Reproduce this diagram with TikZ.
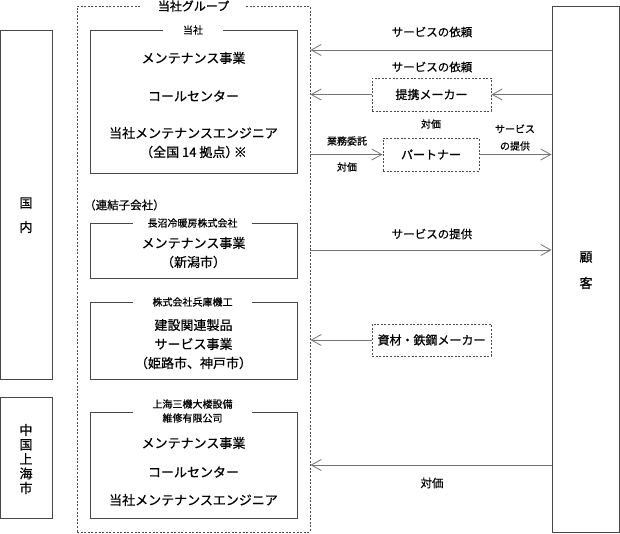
\documentclass[tikz,border=0pt]{standalone}
\usepackage{fontspec}
\setmainfont{Noto Sans CJK JP}[FakeBold=0.6]
\usetikzlibrary{arrows.meta}
\begin{document}
\begin{tikzpicture}[x=1pt,y=-1pt,
  solidbox/.style={draw=black!72, line width=0.9pt, inner sep=0pt},
  dashbox/.style={draw=black!70, line width=0.9pt, dash pattern=on 2pt off 1.6pt, inner sep=0pt},
  grouptitle/.style={fill=white, font=\fontsize{12}{14}\selectfont, inner sep=0pt, minimum width=103pt, minimum height=12pt},
  boxtitle/.style={fill=white, font=\fontsize{10}{14}\selectfont, inner sep=0pt, minimum width=119pt, minimum height=10pt, align=center},
  body/.style={font=\fontsize{13}{15}\selectfont, inner sep=0pt},
  lbl/.style={font=\fontsize{11.5}{13}\selectfont, inner sep=0pt},
  smlbl/.style={font=\fontsize{10}{17}\selectfont, inner sep=0pt, align=center},
  conn/.style={draw=black!55, line width=1pt, -{Straight Barb[length=10pt,width=11pt,line width=0.8pt]}},
]
\useasboundingbox (0,0) rectangle (620,533);

% outer frames
\node (grp) [dashbox, minimum width=233pt, minimum height=526pt] at (193.5,269) {};
\node (cust) [solidbox, minimum width=67pt, minimum height=526pt] at (585.5,269) {};
\node (dom) [solidbox, minimum width=51.5pt, minimum height=349pt] at (26.25,204.5) {};
\node (sh) [solidbox, minimum width=51.5pt, minimum height=121pt] at (26.25,457.5) {};

% company boxes
\node (co) [solidbox, minimum width=207pt, minimum height=143pt] at (193.5,101.5) {};
\node (nag) [solidbox, minimum width=207pt, minimum height=55pt] at (193.5,250.5) {};
\node (hyo) [solidbox, minimum width=207pt, minimum height=77pt] at (193.5,340.5) {};
\node (sha) [solidbox, minimum width=207pt, minimum height=106pt] at (193.5,465) {};

% titles
\node (grpt) [grouptitle] at (193.5,6) {当社グループ};
\node (cot) [boxtitle, minimum width=60pt] at (193,30) {当社};
\node (nagt) [boxtitle] at (192.5,223) {長沼冷暖房株式会社};
\node (hyot) [boxtitle] at (192.5,302) {株式会社兵庫機工};
\node (shat) [boxtitle] at (192.5,411) {上海三機大楼設備\\維修有限公司};

% body texts
\node (co1) [body] at (193.5,58) {メンテナンス事業};
\node (co2) [body] at (193.5,96) {コールセンター};
\node (co3) [body] at (193.5,133) {当社メンテナンスエンジニア};
\node (co4) [body] at (193.5,152) {（全国 14 拠点）\kern-0.35em※};
\node (sub) [lbl, anchor=west] at (84,205) {（連結子会社）};
\node (nag1) [body] at (193.5,243) {メンテナンス事業};
\node (nag2) [body] at (193.5,262) {（新潟市）};
\node (hyo1) [body] at (193.5,325) {建設関連製品};
\node (hyo2) [body] at (193.5,344) {サービス事業};
\node (hyo3) [body] at (193.5,363) {（姫路市、神戸市）};
\node (sha1) [body] at (193.5,443) {メンテナンス事業};
\node (sha2) [body] at (193.5,472) {コールセンター};
\node (sha3) [body] at (193.5,500) {当社メンテナンスエンジニア};

\node (domt1) [body] at (26,203) {国};
\node (domt2) [body] at (26,227) {内};
\node (sht) [body, align=center, font=\fontsize{13}{14.5}\selectfont] at (26,459) {中\\国\\上\\海\\市};
\node (custt1) [body] at (586,257) {顧};
\node (custt2) [body] at (586,283) {客};

% partner boxes
\node (mk) [dashbox, minimum width=119pt, minimum height=33pt, font=\fontsize{12}{14}\selectfont] at (431.5,94.5) {提携メーカー};
\node (pt) [dashbox, minimum width=96pt, minimum height=33pt, font=\fontsize{12}{14}\selectfont] at (431,154.5) {パートナー};
\node (mat) [dashbox, minimum width=119pt, minimum height=32pt, font=\fontsize{12}{14}\selectfont] at (431.5,340) {資材・鉄鋼メーカー};

% row coordinates
\coordinate (r1) at (0,50);
\coordinate (r4) at (0,250);
\coordinate (r6) at (0,465);

% connectors
\draw[conn] (cust.west |- r1) -- (grp.east |- r1);
\draw[conn] (cust.west |- mk) -- (mk.east);
\draw[conn] (mk.west) -- (grp.east |- mk);
\draw[conn] (grp.east |- pt) -- (pt.west);
\draw[conn] (pt.east) -- (cust.west |- pt);
\draw[conn] (grp.east |- r4) -- (cust.west |- r4);
\draw[conn] (mat.west) -- (grp.east |- mat);
\draw[conn] (cust.west |- r6) -- (grp.east |- r6);

% connector labels
\node (l1) [lbl] at (432,32) {サービスの依頼};
\node (l2) [lbl] at (432,67) {サービスの依頼};
\node (l3) [smlbl] at (431,124) {対価};
\node (l4) [smlbl] at (347,141) {業務委託};
\node (l5) [smlbl] at (347,167) {対価};
\node (l6) [smlbl] at (515,137.5) {サービス\\の提供};
\node (l7) [lbl] at (432,234) {サービスの提供};
\node (l8) [lbl] at (432,483) {対価};
\end{tikzpicture}
\end{document}
